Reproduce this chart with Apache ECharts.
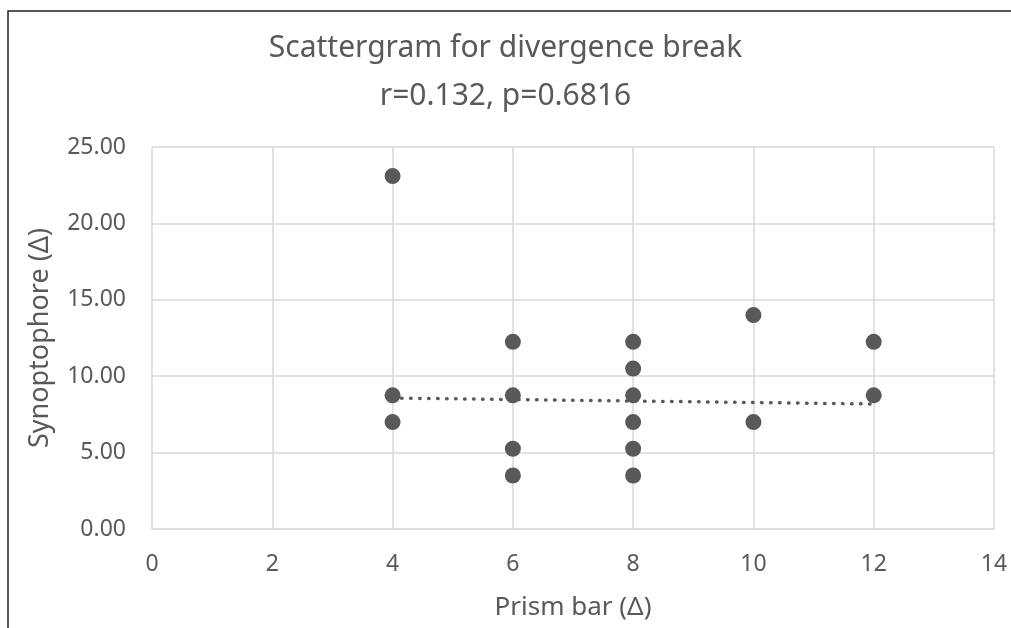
<!DOCTYPE html>
<html>
<head>
<meta charset="utf-8">
<script src="https://cdn.jsdelivr.net/npm/echarts@6/dist/echarts.min.js"></script>
<style>
  html, body { margin: 0; padding: 0; background: #fff; }
  #chart { width: 1011px; height: 628px; }
</style>
</head>
<body>
<div id="chart"></div>
<script>
// 데이터: prism bar (x) vs synoptophore (y)
const prismBar = [4, 4, 4, 6, 6, 6, 6, 8, 8, 8, 8, 8, 8, 10, 10, 12, 12];
const synoptophore = [23.1, 8.75, 7.0, 12.25, 8.75, 5.25, 3.5, 12.25, 10.5, 8.75, 7.0, 5.25, 3.5, 14.0, 7.0, 12.25, 8.75];

// 추세선 (그림에서 읽은 양 끝 값)
const trendX = [4, 12];
const trendY = [8.57, 8.18];

const xTicks = { min: 0, max: 14, step: 2 };
const yTicks = { min: 0, max: 25, step: 5 };

const textColor = '#595959';
const gridColor = '#d9d9d9';
const fontName = 'Noto Sans';

function pairs(xs, ys) {
  return xs.map(function (x, i) { return [x, ys[i]]; });
}

var myChart = echarts.init(document.getElementById('chart'));
var option = {
  animation: false,
  backgroundColor: '#fff',
  textStyle: { fontFamily: fontName },
  graphic: [{
    type: 'rect',
    shape: { x: 8, y: 11, width: 1200, height: 800 },
    style: { fill: 'none', stroke: '#222', lineWidth: 1.5 },
    silent: true
  }],
  title: {
    text: 'Scattergram for divergence break\nr=0.132, p=0.6816',
    left: 'center',
    top: 19,
    textStyle: {
      fontFamily: fontName,
      fontSize: 30,
      fontWeight: 'normal',
      color: textColor,
      lineHeight: 48
    }
  },
  grid: { left: 152, right: 17, top: 147, bottom: 99 },
  xAxis: {
    type: 'value',
    min: xTicks.min,
    max: xTicks.max,
    interval: xTicks.step,
    name: 'Prism bar (Δ)',
    nameLocation: 'middle',
    nameGap: 66,
    nameTextStyle: { fontFamily: fontName, fontSize: 26, color: textColor },
    axisLine: { show: true, lineStyle: { color: gridColor, width: 1.5 } },
    axisTick: { show: false },
    axisLabel: { fontFamily: fontName, fontSize: 23, color: textColor, margin: 24 },
    splitLine: { show: true, lineStyle: { color: gridColor, width: 1.5 } }
  },
  yAxis: {
    type: 'value',
    min: yTicks.min,
    max: yTicks.max,
    interval: yTicks.step,
    name: 'Synoptophore (Δ)',
    nameLocation: 'middle',
    nameGap: 98,
    nameTextStyle: { fontFamily: fontName, fontSize: 27, color: textColor },
    axisLine: { show: false },
    axisTick: { show: false },
    axisLabel: {
      fontFamily: fontName, fontSize: 23, color: textColor, margin: 26,
      formatter: function (v) { return v.toFixed(2); }
    },
    splitLine: { show: true, lineStyle: { color: gridColor, width: 1.5 } }
  },
  series: [
    {
      type: 'scatter',
      data: pairs(prismBar, synoptophore),
      symbol: 'circle',
      symbolSize: 16,
      itemStyle: { color: textColor, opacity: 1 }
    },
    {
      type: 'line',
      data: pairs(trendX, trendY),
      symbol: 'none',
      z: 3,
      lineStyle: { color: textColor, width: 3.5, type: [0.5, 8.5], cap: 'round' }
    }
  ]
};
myChart.setOption(option);
</script>
</body>
</html>
